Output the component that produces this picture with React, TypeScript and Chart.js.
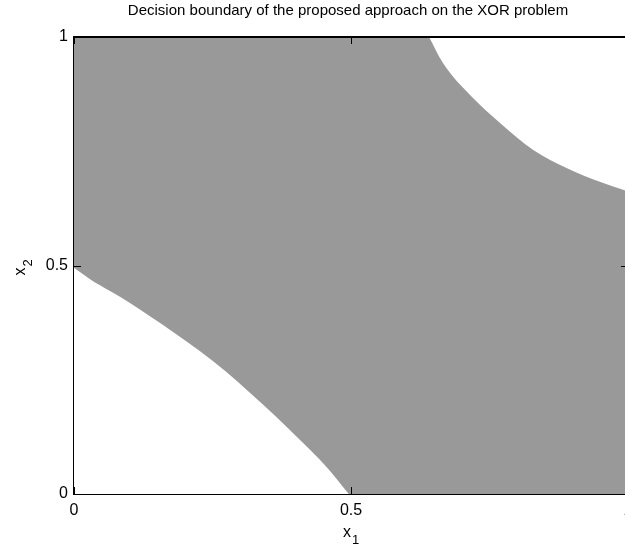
import React, { useEffect, useRef } from 'react';
import { Chart, registerables } from 'chart.js';

Chart.register(...registerables);

// ---- data ----
const titleText = 'Decision boundary of the proposed approach on the XOR problem';
const xAxisMain = 'x';
const xAxisSub = '1';
const yAxisMain = 'x';
const yAxisSub = '2';

const tickValues = [0, 0.5, 1];
const tickLabels = ['0', '0.5', '1'];

// lower-left boundary (white region below it)
const lowerX = [0, 0.029, 0.065, 0.101, 0.137, 0.182, 0.227, 0.273, 0.318, 0.363, 0.408, 0.453, 0.496];
const lowerY = [0.495, 0.47, 0.444, 0.418, 0.389, 0.352, 0.313, 0.269, 0.221, 0.171, 0.118, 0.063, 0];

// upper-right boundary (white region above it)
const upperX = [0.641, 0.666, 0.718, 0.769, 0.829, 0.89, 0.949, 1.0];
const upperY = [1, 0.943, 0.869, 0.812, 0.753, 0.713, 0.683, 0.662];

// full unit square (gray class region)
const squareX = [0, 1];
const squareY = [1, 1];

const GRAY = '#999999';
const FONT = '"Liberation Sans", Arial, Helvetica, sans-serif';

const CANVAS_W = 680;
const CANVAS_H = 544;

function drawSubLabel(ctx: CanvasRenderingContext2D, main: string, sub: string, cx: number, baseline: number) {
  ctx.font = `16px ${FONT}`;
  const wm = ctx.measureText(main).width;
  ctx.font = `13px ${FONT}`;
  const ws = ctx.measureText(sub).width;
  const total = wm + 1 + ws;
  const start = cx - total / 2;
  ctx.textAlign = 'left';
  ctx.textBaseline = 'alphabetic';
  ctx.font = `16px ${FONT}`;
  ctx.fillText(main, start, baseline);
  ctx.font = `13px ${FONT}`;
  ctx.fillText(sub, start + wm + 1, baseline + 7);
}

const framePlugin = {
  id: 'matlabFrame',
  afterDraw(chart: any) {
    const { ctx, chartArea: a, scales } = chart;
    const xs = scales.x;
    const ys = scales.y;
    ctx.save();
    ctx.strokeStyle = '#000';
    ctx.lineWidth = 2;
    ctx.beginPath();
    ctx.moveTo(a.left - 1, a.top);
    ctx.lineTo(a.right + 1, a.top);
    ctx.moveTo(a.right, a.top);
    ctx.lineTo(a.right, a.bottom);
    ctx.stroke();

    ctx.lineWidth = 1;
    ctx.beginPath();
    for (const v of tickValues) {
      const px = Math.round(xs.getPixelForValue(v)) + 0.5;
      ctx.moveTo(px, a.bottom);
      ctx.lineTo(px, a.bottom - 7);
      ctx.moveTo(px, a.top);
      ctx.lineTo(px, a.top + 7);
      const py = Math.round(ys.getPixelForValue(v)) + 0.5;
      ctx.moveTo(a.left, py);
      ctx.lineTo(a.left + 7, py);
      ctx.moveTo(a.right, py);
      ctx.lineTo(a.right - 7, py);
    }
    ctx.stroke();

    ctx.fillStyle = '#000';
    ctx.font = `15px ${FONT}`;
    ctx.textAlign = 'center';
    ctx.textBaseline = 'alphabetic';
    ctx.fillText(titleText, (a.left + a.right) / 2 - 3, 15);

    drawSubLabel(ctx, xAxisMain, xAxisSub, (a.left + a.right) / 2, 537);

    ctx.save();
    ctx.translate(25, (a.top + a.bottom) / 2 + 2);
    ctx.rotate(-Math.PI / 2);
    drawSubLabel(ctx, yAxisMain, yAxisSub, 0, 0);
    ctx.restore();

    ctx.restore();
  },
};

function toPoints(xs: number[], ys: number[]) {
  return xs.map((x, i) => ({ x, y: ys[i] }));
}

export default function App() {
  const ref = useRef<HTMLCanvasElement>(null);

  useEffect(() => {
    const canvas = ref.current;
    if (!canvas) return;
    const fixedTicks = (s: any) => {
      s.ticks = tickValues.map((v) => ({ value: v }));
    };
    const tickCb = (v: any) => {
      const i = tickValues.indexOf(Number(v));
      return i >= 0 ? tickLabels[i] : '';
    };
    const chart = new Chart(canvas, {
      type: 'scatter',
      data: {
        datasets: [
          {
            label: 'class region',
            data: toPoints(squareX, squareY),
            showLine: true,
            fill: 'origin',
            backgroundColor: GRAY,
            borderWidth: 0,
            pointRadius: 0,
            order: 2,
          },
          {
            label: 'lower boundary',
            data: toPoints(lowerX, lowerY),
            showLine: true,
            fill: 'origin',
            backgroundColor: '#ffffff',
            borderWidth: 0,
            pointRadius: 0,
            cubicInterpolationMode: 'monotone',
            order: 1,
          },
          {
            label: 'upper boundary',
            data: toPoints(upperX, upperY),
            showLine: true,
            fill: 'end',
            backgroundColor: '#ffffff',
            borderWidth: 0,
            pointRadius: 0,
            cubicInterpolationMode: 'monotone',
            order: 1,
          },
        ],
      },
      options: {
        responsive: false,
        animation: false,
        devicePixelRatio: 1,
        layout: { padding: { left: 0, top: 37, right: CANVAS_W - 628, bottom: 0 } },
        plugins: {
          legend: { display: false },
          title: { display: false },
          tooltip: { enabled: false },
        },
        scales: {
          x: {
            type: 'linear',
            position: 'bottom',
            min: 0,
            max: 1,
            z: 1,
            grid: { display: false, drawTicks: false },
            border: { display: true, color: '#000', width: 2 },
            afterBuildTicks: fixedTicks,
            afterFit: (s: any) => {
              s.height = 50;
            },
            ticks: {
              color: '#000',
              font: { family: FONT, size: 16 },
              padding: 7,
              maxRotation: 0,
              autoSkip: false,
              callback: tickCb,
            },
          },
          y: {
            type: 'linear',
            position: 'left',
            min: 0,
            max: 1,
            z: 1,
            grid: { display: false, drawTicks: false },
            border: { display: true, color: '#000', width: 2 },
            afterBuildTicks: fixedTicks,
            afterFit: (s: any) => {
              s.width = 74;
            },
            ticks: {
              color: '#000',
              font: { family: FONT, size: 16 },
              padding: 6,
              autoSkip: false,
              callback: tickCb,
            },
          },
        },
      } as any,
      plugins: [framePlugin],
    });
    return () => chart.destroy();
  }, []);

  return (
    <div
      style={{
        position: 'fixed',
        left: 0,
        top: 0,
        width: 625,
        height: 544,
        overflow: 'hidden',
        background: '#ffffff',
      }}
    >
      <canvas
        ref={ref}
        width={CANVAS_W}
        height={CANVAS_H}
        style={{ display: 'block', width: CANVAS_W, height: CANVAS_H }}
      />
    </div>
  );
}
